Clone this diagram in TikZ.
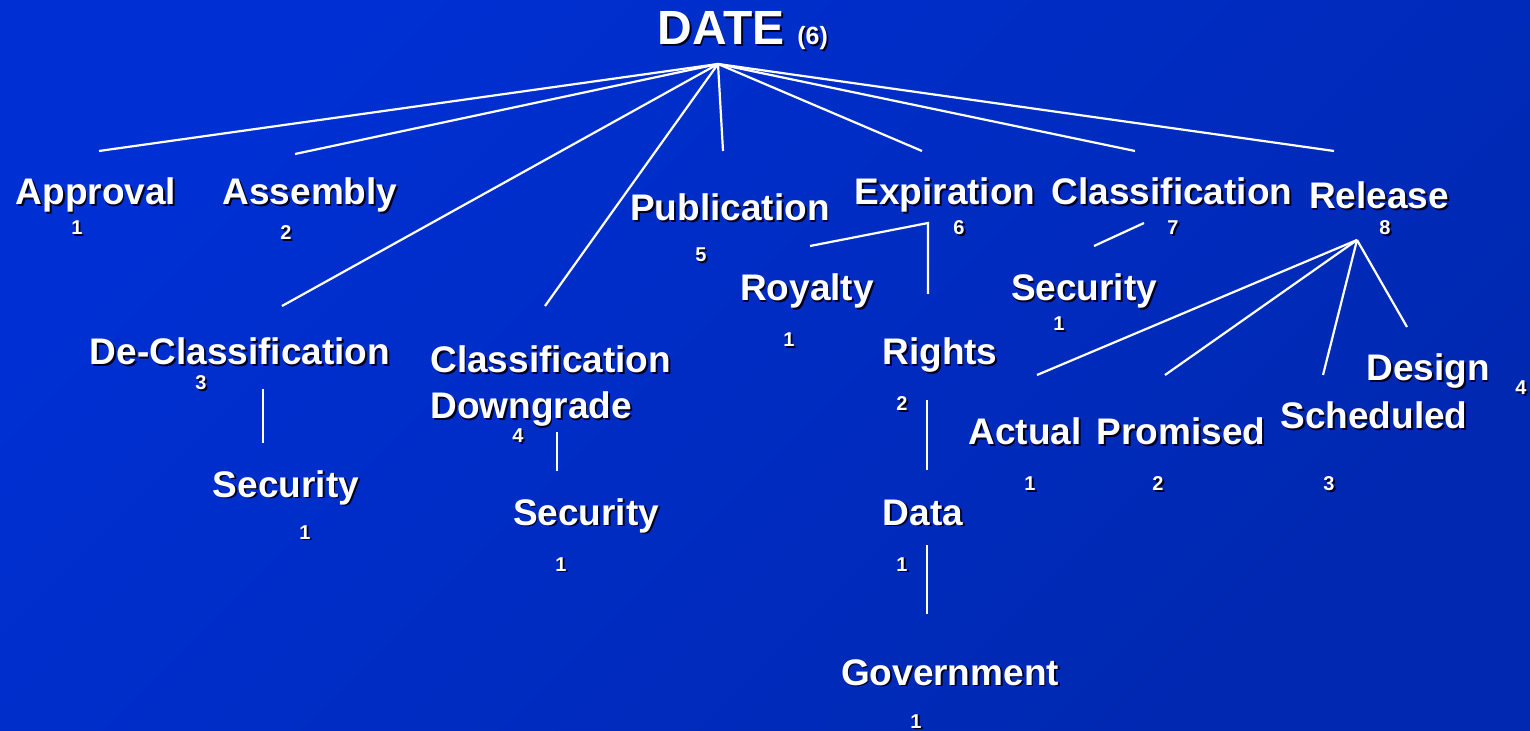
\documentclass[tikz,border=0pt]{standalone}
\usepackage{fontspec}
\setmainfont{Liberation Sans}
\definecolor{bgA}{RGB}{0,48,212}
\definecolor{bgB}{RGB}{0,62,240}
\definecolor{bgC}{RGB}{0,40,176}
\definecolor{shadowc}{RGB}{0,0,35}
\newcommand\lab[4]{%
  \node[#3,text=shadowc,xshift=0.9pt,yshift=-0.9pt] at (#2) {#4};
  \node[#3] (#1) at (#2) {#4};}
\tikzset{
  big/.style={font=\bfseries\fontsize{18.5}{20}\selectfont, text=white, inner sep=0pt, anchor=base},
  bigw/.style={big, anchor=base west},
  title/.style={font=\bfseries\fontsize{24}{26}\selectfont, text=white, inner sep=0pt, anchor=base},
  paren/.style={font=\bfseries\fontsize{12.5}{14}\selectfont, text=white, inner sep=0pt, anchor=base west},
  num/.style={font=\bfseries\fontsize{10}{12}\selectfont, text=white, inner sep=0pt, anchor=base},
  conn/.style={draw=white, line width=1.1pt}
}
\begin{document}
\begin{tikzpicture}[x=0.5pt,y=-0.5pt]
\useasboundingbox (0,0) rectangle (1530,731);
\shade[left color=bgA, middle color=bgB, right color=bgC, shading angle=45] (0,0) rectangle (1530,731);

% title
\lab{date}{721,45}{title}{DATE}
\lab{six}{797,45}{paren}{(6)}

% first level
\lab{approval}{96,205}{big}{Approval}
\lab{nApproval}{77,235}{num}{1}
\lab{assembly}{310,205}{big}{Assembly}
\lab{nAssembly}{286,240}{num}{2}
\lab{publication}{730,221}{big}{Publication}
\lab{nPublication}{701,262}{num}{5}
\lab{expiration}{945,205}{big}{Expiration}
\lab{nExpiration}{959,235}{num}{6}
\lab{classification}{1172,205}{big}{Classification}
\lab{nClassification}{1173,235}{num}{7}
\lab{release}{1379,209}{big}{Release}
\lab{nRelease}{1385,235}{num}{8}
\lab{declass}{240,365}{big}{De-Classification}
\lab{nDeclass}{201,390}{num}{3}
\lab{downA}{430,373}{bigw}{Classification}
\lab{downB}{430,419}{bigw}{Downgrade}
\lab{nDown}{518,443}{num}{4}

% second level
\lab{secA}{286,497}{big}{Security}
\lab{nSecA}{305,539}{num}{1}
\lab{secB}{586,525}{big}{Security}
\lab{nSecB}{561,571}{num}{1}
\lab{royalty}{807,301}{big}{Royalty}
\lab{nRoyalty}{789,347}{num}{1}
\lab{rights}{940,365}{big}{Rights}
\lab{nRights}{902,411}{num}{2}
\lab{data}{923,525}{big}{Data}
\lab{nData}{902,571}{num}{1}
\lab{government}{950,685}{big}{Government}
\lab{nGovernment}{916,728}{num}{1}
\lab{secC}{1084,301}{big}{Security}
\lab{nSecC}{1059,331}{num}{1}
\lab{actual}{1025,445}{big}{Actual}
\lab{nActual}{1030,491}{num}{1}
\lab{promised}{1181,445}{big}{Promised}
\lab{nPromised}{1158,491}{num}{2}
\lab{scheduled}{1374,429}{big}{Scheduled}
\lab{nScheduled}{1329,491}{num}{3}
\lab{design}{1428,381}{big}{Design}
\lab{nDesign}{1521,395}{num}{4}

% connector end points
\coordinate (apex) at (718,64);
\coordinate (tApproval) at (99,151);
\coordinate (tAssembly) at (295,154);
\coordinate (tDeclass) at (282,306);
\coordinate (tDown) at (545,306);
\coordinate (tPublication) at (723,151);
\coordinate (tExpiration) at (922,151);
\coordinate (tClassification) at (1135,151);
\coordinate (tRelease) at (1334,151);
\coordinate (expCorner) at (928,223);
\coordinate (tRoyalty) at (810,246);
\coordinate (tRights) at (928,294);
\coordinate (clsTop) at (1144,223);
\coordinate (tSecC) at (1094,246);
\coordinate (relApex) at (1357,240);
\coordinate (tActual) at (1037,375);
\coordinate (tPromised) at (1165,375);
\coordinate (tScheduled) at (1323,375);
\coordinate (tDesign) at (1407,327);
\coordinate (dcTop) at (263,389);
\coordinate (dcBot) at (263,443);
\coordinate (dgTop) at (557,432);
\coordinate (dgBot) at (557,471);
\coordinate (rdTop) at (927,400);
\coordinate (rdBot) at (927,470);
\coordinate (dgvTop) at (927,545);
\coordinate (dgvBot) at (927,614);

% connectors
\foreach \t in {tApproval,tAssembly,tDeclass,tDown,tPublication,tExpiration,tClassification,tRelease}
  \draw[conn] (apex) -- (\t);
\draw[conn] (tRoyalty) -- (expCorner) -- (tRights);
\draw[conn] (clsTop) -- (tSecC);
\foreach \t in {tActual,tPromised,tScheduled,tDesign}
  \draw[conn] (relApex) -- (\t);
\draw[conn] (dcTop) -- (dcBot);
\draw[conn] (dgTop) -- (dgBot);
\draw[conn] (rdTop) -- (rdBot);
\draw[conn] (dgvTop) -- (dgvBot);
\end{tikzpicture}
\end{document}
